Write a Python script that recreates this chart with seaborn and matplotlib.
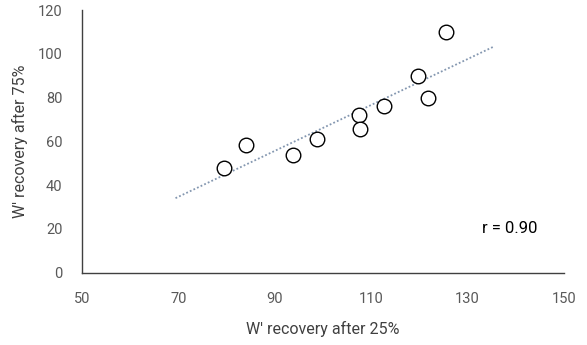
import numpy as np
import pandas as pd
import matplotlib
matplotlib.use("Agg")
import matplotlib.pyplot as plt
import seaborn as sns

x_vals = [79.4, 84.0, 93.7, 98.7, 107.4, 107.6, 112.6, 119.8, 121.7, 125.6]
y_vals = [47.9, 58.5, 53.8, 61.0, 72.0, 65.5, 76.0, 89.8, 79.8, 110.0]
x_ticks = [50, 70, 90, 110, 130, 150]
y_ticks = [0, 20, 40, 60, 80, 100, 120]

sns.set_style("white")
plt.rcParams['font.family'] = ['Roboto', 'DejaVu Sans']

df = pd.DataFrame({"x": x_vals, "y": y_vals})

fig = plt.figure(figsize=(5.87, 3.45), dpi=100)
ax = fig.add_axes([0.1397, 0.2096, 0.8211, 0.7614])

# trendline (extended forecast both sides)
slope, intercept = np.polyfit(df["x"], df["y"], 1)
xl = np.array([min(x_vals) - 10, max(x_vals) + 10])
sns.lineplot(x=xl, y=slope * xl + intercept, ax=ax, color="#8497b0",
             linestyle=(0, (1, 1.2)), linewidth=1.3)

sns.scatterplot(data=df, x="x", y="y", ax=ax, s=110, facecolor="white",
                edgecolor="black", linewidth=1.0, zorder=3)

ax.set_xlim(50, 150)
ax.set_ylim(0, 120)
ax.set_xticks(x_ticks)
ax.set_yticks(y_ticks)
ax.tick_params(direction="in", length=4, width=0.8, color="#404040",
               labelsize=10.5, labelcolor="#595959")
ax.tick_params(axis="x", pad=14)
ax.tick_params(axis="y", pad=14)
for s in ["top", "right"]:
    ax.spines[s].set_visible(False)
for s in ["left", "bottom"]:
    ax.spines[s].set_color("#404040")
    ax.spines[s].set_linewidth(1.0)

ax.set_xlabel("W' recovery after 25%", fontsize=11.5, color="#404040", labelpad=11)
ax.set_ylabel("W' recovery after 75%", fontsize=11.5, color="#404040", labelpad=7)

ax.text(132.9, 20, "r = 0.90", fontsize=12, color="black", va="center")

fig.savefig("out.png", dpi=100)
